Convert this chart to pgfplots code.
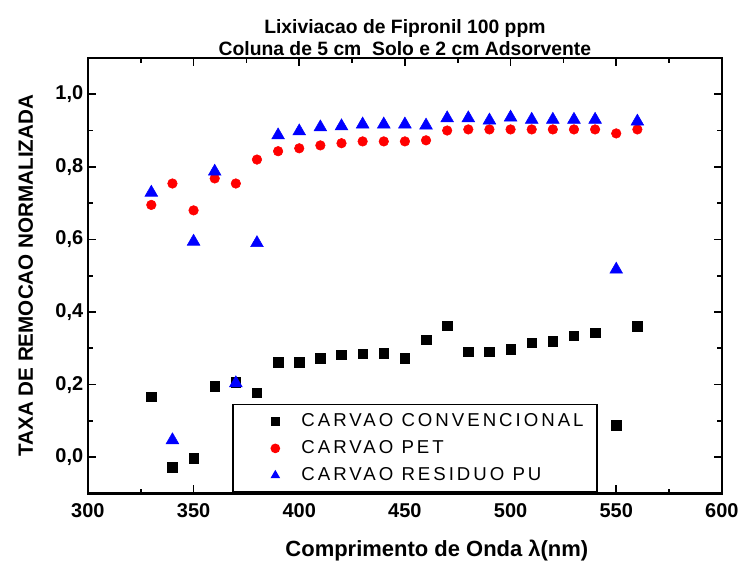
\documentclass[border=0pt]{standalone}
\usepackage{fontspec}
\setmainfont{Liberation Sans}
\usepackage{pgfplots}
\pgfplotsset{compat=1.18}
\definecolor{pet}{RGB}{255,0,0}
\definecolor{pu}{RGB}{0,0,255}
\pgfplotsset{
    myleg/.style={legend image code/.code={%
        \path (0pt,0pt) (40pt,0pt);
        \draw[##1] plot coordinates {(23pt,0pt)};}},
}
\begin{document}
\begin{tikzpicture}
\begin{axis}[
    name=main,
    scale only axis,
    width=476pt, height=327pt,
    xmin=300, xmax=600, ymin=-0.1, ymax=1.1,
    xtick={300,350,400,450,500,550,600},
    ytick={0,0.2,0.4,0.6,0.8,1.0},
    minor x tick num=1, minor y tick num=1,
    xtick pos=both, ytick pos=both,
    xticklabel pos=left, yticklabel pos=left,
    tick align=inside,
    major tick length=6pt, minor tick length=3.5pt,
    every tick/.style={black, line width=1.3pt},
    axis line style={line width=1.6pt},
    /pgf/number format/assume math mode=true,
    ticklabel style={font=\fontsize{15}{17}\selectfont\bfseries},
    yticklabel style={/pgf/number format/.cd, fixed, fixed zerofill, precision=1, use comma},
    xticklabel style={yshift=-4pt, /pgf/number format/.cd, fixed, precision=0},
    title={Lixiviacao de Fipronil 100 ppm\\Coluna de 5 cm\ \ Solo e 2 cm Adsorvente},
    title style={align=center, font=\fontsize{14.5}{16.5}\selectfont\bfseries, yshift=-8pt},
    xlabel={Comprimento de Onda λ(nm)},
    ylabel={TAXA DE REMOCAO NORMALIZADA},
    label style={font=\fontsize{15.5}{17}\selectfont\bfseries},
    xlabel style={yshift=-10pt, xshift=24pt, font=\fontsize{16.5}{18}\selectfont\bfseries},
    ylabel style={yshift=10pt},
    legend style={at={(0.228,0.206)}, anchor=north west, draw=black, line width=1.2pt,
        font=\fontsize{14}{16}\selectfont\addfontfeature{LetterSpace=16},
        inner xsep=8pt, inner ysep=5pt, row sep=5pt},
    legend image post style={mark size=3pt},
    legend cell align=left,
]
\addplot[only marks, mark=square*, mark size=3.6pt, black, myleg] coordinates {
    (330,0.166) (340,-0.028) (350,-0.003) (360,0.196) (370,0.207) (380,0.177)
    (390,0.262) (400,0.262) (410,0.273) (420,0.282) (430,0.285) (440,0.287)
    (450,0.273) (460,0.323) (470,0.362) (480,0.290) (490,0.290) (500,0.298)
    (510,0.315) (520,0.320) (530,0.334) (540,0.343) (550,0.088) (560,0.360)
};
\addplot[only marks, mark=*, mark size=3.6pt, pet, myleg] coordinates {
    (330,0.695) (340,0.754) (350,0.680) (360,0.768) (370,0.754) (380,0.820)
    (390,0.843) (400,0.851) (410,0.859) (420,0.865) (430,0.870) (440,0.870)
    (450,0.870) (460,0.873) (470,0.900) (480,0.903) (490,0.903) (500,0.903)
    (510,0.903) (520,0.903) (530,0.903) (540,0.903) (550,0.892) (560,0.903)
};
\addplot[only marks, mark=triangle*, mark size=5.5pt, pu, myleg] coordinates {
    (330,0.729) (340,0.047) (350,0.594) (360,0.787) (370,0.204) (380,0.590)
    (390,0.887) (400,0.898) (410,0.909) (420,0.912) (430,0.917) (440,0.917)
    (450,0.917) (460,0.914) (470,0.934) (480,0.934) (490,0.928) (500,0.936)
    (510,0.930) (520,0.930) (530,0.930) (540,0.930) (550,0.517) (560,0.925)
};
\legend{CARVAO CONVENCIONAL, CARVAO PET, CARVAO RESIDUO PU}
\end{axis}
\path ([xshift=-66pt,yshift=-48pt]main.south west) rectangle ([xshift=15pt,yshift=43.5pt]main.north east);
\end{tikzpicture}
\end{document}
